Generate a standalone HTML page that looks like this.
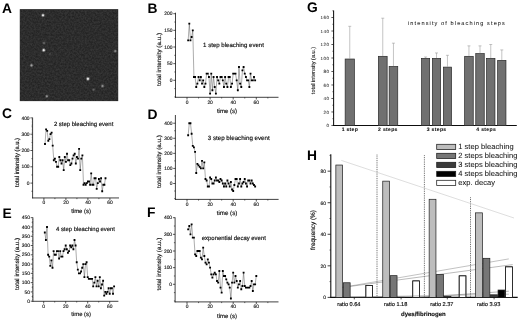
<!DOCTYPE html>
<html><head><meta charset="utf-8"><title>Figure</title>
<style>html,body{margin:0;padding:0;background:#fff;}body{width:520px;height:321px;overflow:hidden;font-family:"Liberation Sans",sans-serif;}svg{display:block;}</style>
</head><body>
<svg width="520" height="321" viewBox="0 0 520 321" font-family="'Liberation Sans', sans-serif" text-rendering="geometricPrecision"><defs><filter id="soft" x="0" y="0" width="100%" height="100%" filterUnits="userSpaceOnUse"><feGaussianBlur stdDeviation="0.28"/></filter></defs><g filter="url(#soft)"><rect x="0" y="0" width="520" height="321" fill="#fff"/>
<text transform="translate(2.00,12.60)" font-size="13.8" text-anchor="start" font-weight="bold" fill="#000">A</text>
<defs><filter id="nz" x="0" y="0" width="100%" height="100%" color-interpolation-filters="sRGB"><feTurbulence type="fractalNoise" baseFrequency="0.55" numOctaves="2" seed="7" result="t"/><feColorMatrix in="t" type="matrix" values="0.13 0 0 0 0.11  0.13 0 0 0 0.11  0.13 0 0 0 0.11  0 0 0 0 1"/></filter><radialGradient id="sp"><stop offset="0" stop-color="#fff" stop-opacity="1"/><stop offset="0.3" stop-color="#fff" stop-opacity="0.85"/><stop offset="0.6" stop-color="#fff" stop-opacity="0.3"/><stop offset="1" stop-color="#fff" stop-opacity="0"/></radialGradient></defs>
<rect x="19.8" y="9.2" width="98.4" height="91.9" fill="#161616"/>
<rect x="20.9" y="10.2" width="96.9" height="90.5" fill="#2c2c2c" filter="url(#nz)"/>
<circle cx="43" cy="15.3" r="2.3" fill="url(#sp)" opacity="0.95"/>
<circle cx="44" cy="43" r="2.2" fill="url(#sp)" opacity="0.28"/>
<circle cx="43.7" cy="50.2" r="2.4" fill="url(#sp)" opacity="0.95"/>
<circle cx="50.2" cy="54.2" r="2.0" fill="url(#sp)" opacity="0.12"/>
<circle cx="31.5" cy="65.4" r="2.4" fill="url(#sp)" opacity="0.55"/>
<circle cx="115.3" cy="51.1" r="2.2" fill="url(#sp)" opacity="0.45"/>
<circle cx="87.9" cy="78.8" r="2.5" fill="url(#sp)" opacity="0.95"/>
<circle cx="102.5" cy="86" r="2.3" fill="url(#sp)" opacity="0.5"/>
<circle cx="93.5" cy="89.7" r="2.1" fill="url(#sp)" opacity="0.28"/>
<circle cx="46.8" cy="96.3" r="2.2" fill="url(#sp)" opacity="0.5"/>
<text transform="translate(147.40,12.60)" font-size="13.8" text-anchor="start" font-weight="bold" fill="#000">B</text>
<line x1="175.50" y1="12.70" x2="175.50" y2="97.70" stroke="#111" stroke-width="0.8" />
<line x1="175.10" y1="97.30" x2="278.50" y2="97.30" stroke="#111" stroke-width="0.8" />
<line x1="173.30" y1="80.30" x2="175.50" y2="80.30" stroke="#111" stroke-width="0.7" />
<text transform="translate(172.50,81.95)" font-size="4.9" text-anchor="end" font-weight="normal" fill="#111" stroke="#111" stroke-width="0.12">0</text>
<line x1="173.30" y1="63.65" x2="175.50" y2="63.65" stroke="#111" stroke-width="0.7" />
<text transform="translate(172.50,65.30)" font-size="4.9" text-anchor="end" font-weight="normal" fill="#111" stroke="#111" stroke-width="0.12">50</text>
<line x1="173.30" y1="47.00" x2="175.50" y2="47.00" stroke="#111" stroke-width="0.7" />
<text transform="translate(172.50,48.65)" font-size="4.9" text-anchor="end" font-weight="normal" fill="#111" stroke="#111" stroke-width="0.12">100</text>
<line x1="173.30" y1="30.35" x2="175.50" y2="30.35" stroke="#111" stroke-width="0.7" />
<text transform="translate(172.50,32.00)" font-size="4.9" text-anchor="end" font-weight="normal" fill="#111" stroke="#111" stroke-width="0.12">150</text>
<line x1="173.30" y1="13.70" x2="175.50" y2="13.70" stroke="#111" stroke-width="0.7" />
<text transform="translate(172.50,15.35)" font-size="4.9" text-anchor="end" font-weight="normal" fill="#111" stroke="#111" stroke-width="0.12">200</text>
<line x1="174.30" y1="96.95" x2="175.50" y2="96.95" stroke="#111" stroke-width="0.6" />
<line x1="174.30" y1="88.62" x2="175.50" y2="88.62" stroke="#111" stroke-width="0.6" />
<line x1="174.30" y1="71.97" x2="175.50" y2="71.97" stroke="#111" stroke-width="0.6" />
<line x1="174.30" y1="55.32" x2="175.50" y2="55.32" stroke="#111" stroke-width="0.6" />
<line x1="174.30" y1="38.67" x2="175.50" y2="38.67" stroke="#111" stroke-width="0.6" />
<line x1="174.30" y1="22.02" x2="175.50" y2="22.02" stroke="#111" stroke-width="0.6" />
<line x1="187.00" y1="97.30" x2="187.00" y2="99.50" stroke="#111" stroke-width="0.7" />
<text transform="translate(187.00,103.60)" font-size="4.9" text-anchor="middle" font-weight="normal" fill="#111" stroke="#111" stroke-width="0.12">0</text>
<line x1="210.10" y1="97.30" x2="210.10" y2="99.50" stroke="#111" stroke-width="0.7" />
<text transform="translate(210.10,103.60)" font-size="4.9" text-anchor="middle" font-weight="normal" fill="#111" stroke="#111" stroke-width="0.12">20</text>
<line x1="233.20" y1="97.30" x2="233.20" y2="99.50" stroke="#111" stroke-width="0.7" />
<text transform="translate(233.20,103.60)" font-size="4.9" text-anchor="middle" font-weight="normal" fill="#111" stroke="#111" stroke-width="0.12">40</text>
<line x1="256.30" y1="97.30" x2="256.30" y2="99.50" stroke="#111" stroke-width="0.7" />
<text transform="translate(256.30,103.60)" font-size="4.9" text-anchor="middle" font-weight="normal" fill="#111" stroke="#111" stroke-width="0.12">60</text>
<line x1="198.55" y1="97.30" x2="198.55" y2="98.50" stroke="#111" stroke-width="0.6" />
<line x1="221.65" y1="97.30" x2="221.65" y2="98.50" stroke="#111" stroke-width="0.6" />
<line x1="244.75" y1="97.30" x2="244.75" y2="98.50" stroke="#111" stroke-width="0.6" />
<line x1="267.85" y1="97.30" x2="267.85" y2="98.50" stroke="#111" stroke-width="0.6" />
<text transform="translate(227.00,112.80)" font-size="6.08" text-anchor="middle" font-weight="normal" fill="#111" stroke="#111" stroke-width="0.16">time (s)</text>
<text transform="translate(161.40,59.55) rotate(-90) scale(1.048,1.0)" font-size="6.0" text-anchor="middle" font-weight="normal" fill="#111" stroke="#111" stroke-width="0.16">total intensity (a.u.)</text>
<text transform="translate(203.10,47.40)" font-size="6.08" text-anchor="start" font-weight="normal" fill="#111" stroke="#111" stroke-width="0.16">1 step bleaching event</text>
<path d="M188.16,40.34 L189.31,23.69 L190.47,40.34 L191.62,37.01 L192.78,30.35 L193.93,76.97 L195.09,76.97 L196.24,86.96 L197.40,83.63 L198.55,76.97 L199.71,80.30 L200.86,76.97 L202.01,83.63 L203.17,80.30 L204.32,86.96 L205.48,83.63 L206.63,73.64 L207.79,73.64 L208.94,76.97 L210.10,93.62 L211.25,73.64 L212.41,90.29 L213.56,76.97 L214.72,86.96 L215.88,93.62 L217.03,76.97 L218.19,80.30 L219.34,83.63 L220.50,76.97 L221.65,76.97 L222.81,80.30 L223.96,86.96 L225.12,76.97 L226.27,83.63 L227.43,86.96 L228.58,76.97 L229.74,76.97 L230.89,86.96 L232.05,83.63 L233.20,73.64 L234.36,73.64 L235.51,73.64 L236.66,80.30 L237.82,90.29 L238.97,66.98 L240.13,83.63 L241.28,86.96 L242.44,70.31 L243.59,66.98 L244.75,73.64 L245.91,76.97 L247.06,80.30 L248.22,80.30 L249.37,86.96 L250.53,73.64 L251.68,80.30 L252.84,80.30 L253.99,76.97 L255.14,80.30" fill="none" stroke="#3a3a3a" stroke-width="0.42" stroke-linejoin="round"/>
<path d="M187.23,39.41h1.85v1.85h-1.85zM188.38,22.76h1.85v1.85h-1.85zM189.54,39.41h1.85v1.85h-1.85zM190.69,36.09h1.85v1.85h-1.85zM191.85,29.42h1.85v1.85h-1.85zM193.00,76.05h1.85v1.85h-1.85zM194.16,76.05h1.85v1.85h-1.85zM195.31,86.03h1.85v1.85h-1.85zM196.47,82.70h1.85v1.85h-1.85zM197.62,76.05h1.85v1.85h-1.85zM198.78,79.38h1.85v1.85h-1.85zM199.94,76.05h1.85v1.85h-1.85zM201.09,82.70h1.85v1.85h-1.85zM202.25,79.38h1.85v1.85h-1.85zM203.40,86.03h1.85v1.85h-1.85zM204.55,82.70h1.85v1.85h-1.85zM205.71,72.72h1.85v1.85h-1.85zM206.86,72.72h1.85v1.85h-1.85zM208.02,76.05h1.85v1.85h-1.85zM209.17,92.70h1.85v1.85h-1.85zM210.33,72.72h1.85v1.85h-1.85zM211.48,89.36h1.85v1.85h-1.85zM212.64,76.05h1.85v1.85h-1.85zM213.79,86.03h1.85v1.85h-1.85zM214.95,92.70h1.85v1.85h-1.85zM216.10,76.05h1.85v1.85h-1.85zM217.26,79.38h1.85v1.85h-1.85zM218.41,82.70h1.85v1.85h-1.85zM219.57,76.05h1.85v1.85h-1.85zM220.72,76.05h1.85v1.85h-1.85zM221.88,79.38h1.85v1.85h-1.85zM223.03,86.03h1.85v1.85h-1.85zM224.19,76.05h1.85v1.85h-1.85zM225.34,82.70h1.85v1.85h-1.85zM226.50,86.03h1.85v1.85h-1.85zM227.65,76.05h1.85v1.85h-1.85zM228.81,76.05h1.85v1.85h-1.85zM229.96,86.03h1.85v1.85h-1.85zM231.12,82.70h1.85v1.85h-1.85zM232.27,72.72h1.85v1.85h-1.85zM233.43,72.72h1.85v1.85h-1.85zM234.58,72.72h1.85v1.85h-1.85zM235.74,79.38h1.85v1.85h-1.85zM236.89,89.36h1.85v1.85h-1.85zM238.05,66.05h1.85v1.85h-1.85zM239.20,82.70h1.85v1.85h-1.85zM240.36,86.03h1.85v1.85h-1.85zM241.51,69.39h1.85v1.85h-1.85zM242.67,66.05h1.85v1.85h-1.85zM243.82,72.72h1.85v1.85h-1.85zM244.98,76.05h1.85v1.85h-1.85zM246.13,79.38h1.85v1.85h-1.85zM247.29,79.38h1.85v1.85h-1.85zM248.44,86.03h1.85v1.85h-1.85zM249.60,72.72h1.85v1.85h-1.85zM250.75,79.38h1.85v1.85h-1.85zM251.91,79.38h1.85v1.85h-1.85zM253.06,76.05h1.85v1.85h-1.85zM254.22,79.38h1.85v1.85h-1.85z" fill="#000"/>
<text transform="translate(2.00,118.10)" font-size="13.8" text-anchor="start" font-weight="bold" fill="#000">C</text>
<line x1="32.60" y1="117.60" x2="32.60" y2="198.35" stroke="#111" stroke-width="0.8" />
<line x1="32.20" y1="197.95" x2="119.00" y2="197.95" stroke="#111" stroke-width="0.8" />
<line x1="30.40" y1="183.10" x2="32.60" y2="183.10" stroke="#111" stroke-width="0.7" />
<text transform="translate(29.60,184.75)" font-size="4.9" text-anchor="end" font-weight="normal" fill="#111" stroke="#111" stroke-width="0.12">0</text>
<line x1="30.40" y1="166.80" x2="32.60" y2="166.80" stroke="#111" stroke-width="0.7" />
<text transform="translate(29.60,168.45)" font-size="4.9" text-anchor="end" font-weight="normal" fill="#111" stroke="#111" stroke-width="0.12">100</text>
<line x1="30.40" y1="150.50" x2="32.60" y2="150.50" stroke="#111" stroke-width="0.7" />
<text transform="translate(29.60,152.15)" font-size="4.9" text-anchor="end" font-weight="normal" fill="#111" stroke="#111" stroke-width="0.12">200</text>
<line x1="30.40" y1="134.20" x2="32.60" y2="134.20" stroke="#111" stroke-width="0.7" />
<text transform="translate(29.60,135.85)" font-size="4.9" text-anchor="end" font-weight="normal" fill="#111" stroke="#111" stroke-width="0.12">300</text>
<line x1="30.40" y1="117.90" x2="32.60" y2="117.90" stroke="#111" stroke-width="0.7" />
<text transform="translate(29.60,119.55)" font-size="4.9" text-anchor="end" font-weight="normal" fill="#111" stroke="#111" stroke-width="0.12">400</text>
<line x1="31.40" y1="191.25" x2="32.60" y2="191.25" stroke="#111" stroke-width="0.6" />
<line x1="31.40" y1="174.95" x2="32.60" y2="174.95" stroke="#111" stroke-width="0.6" />
<line x1="31.40" y1="158.65" x2="32.60" y2="158.65" stroke="#111" stroke-width="0.6" />
<line x1="31.40" y1="142.35" x2="32.60" y2="142.35" stroke="#111" stroke-width="0.6" />
<line x1="31.40" y1="126.05" x2="32.60" y2="126.05" stroke="#111" stroke-width="0.6" />
<line x1="31.70" y1="148.87" x2="32.90" y2="148.87" stroke="#333" stroke-width="0.45" />
<line x1="31.70" y1="147.24" x2="32.90" y2="147.24" stroke="#333" stroke-width="0.45" />
<line x1="31.70" y1="145.61" x2="32.90" y2="145.61" stroke="#333" stroke-width="0.45" />
<line x1="31.70" y1="143.98" x2="32.90" y2="143.98" stroke="#333" stroke-width="0.45" />
<line x1="31.70" y1="140.72" x2="32.90" y2="140.72" stroke="#333" stroke-width="0.45" />
<line x1="31.70" y1="139.09" x2="32.90" y2="139.09" stroke="#333" stroke-width="0.45" />
<line x1="31.70" y1="137.46" x2="32.90" y2="137.46" stroke="#333" stroke-width="0.45" />
<line x1="31.70" y1="135.83" x2="32.90" y2="135.83" stroke="#333" stroke-width="0.45" />
<line x1="31.70" y1="132.57" x2="32.90" y2="132.57" stroke="#333" stroke-width="0.45" />
<line x1="31.70" y1="130.94" x2="32.90" y2="130.94" stroke="#333" stroke-width="0.45" />
<line x1="31.70" y1="129.31" x2="32.90" y2="129.31" stroke="#333" stroke-width="0.45" />
<line x1="31.70" y1="127.68" x2="32.90" y2="127.68" stroke="#333" stroke-width="0.45" />
<line x1="31.70" y1="124.42" x2="32.90" y2="124.42" stroke="#333" stroke-width="0.45" />
<line x1="31.70" y1="122.79" x2="32.90" y2="122.79" stroke="#333" stroke-width="0.45" />
<line x1="31.70" y1="121.16" x2="32.90" y2="121.16" stroke="#333" stroke-width="0.45" />
<line x1="31.70" y1="119.53" x2="32.90" y2="119.53" stroke="#333" stroke-width="0.45" />
<line x1="43.90" y1="197.95" x2="43.90" y2="200.15" stroke="#111" stroke-width="0.7" />
<text transform="translate(43.90,204.20)" font-size="4.9" text-anchor="middle" font-weight="normal" fill="#111" stroke="#111" stroke-width="0.12">0</text>
<line x1="65.90" y1="197.95" x2="65.90" y2="200.15" stroke="#111" stroke-width="0.7" />
<text transform="translate(65.90,204.20)" font-size="4.9" text-anchor="middle" font-weight="normal" fill="#111" stroke="#111" stroke-width="0.12">20</text>
<line x1="87.90" y1="197.95" x2="87.90" y2="200.15" stroke="#111" stroke-width="0.7" />
<text transform="translate(87.90,204.20)" font-size="4.9" text-anchor="middle" font-weight="normal" fill="#111" stroke="#111" stroke-width="0.12">40</text>
<line x1="109.90" y1="197.95" x2="109.90" y2="200.15" stroke="#111" stroke-width="0.7" />
<text transform="translate(109.90,204.20)" font-size="4.9" text-anchor="middle" font-weight="normal" fill="#111" stroke="#111" stroke-width="0.12">60</text>
<line x1="54.90" y1="197.95" x2="54.90" y2="199.15" stroke="#111" stroke-width="0.6" />
<line x1="76.90" y1="197.95" x2="76.90" y2="199.15" stroke="#111" stroke-width="0.6" />
<line x1="98.90" y1="197.95" x2="98.90" y2="199.15" stroke="#111" stroke-width="0.6" />
<text transform="translate(81.10,213.30)" font-size="5.95" text-anchor="middle" font-weight="normal" fill="#111" stroke="#111" stroke-width="0.16">time (s)</text>
<text transform="translate(18.80,162.45) rotate(-90) scale(0.965,1.0)" font-size="6.0" text-anchor="middle" font-weight="normal" fill="#111" stroke="#111" stroke-width="0.16">total intensity (a.u.)</text>
<text transform="translate(53.90,125.60)" font-size="5.95" text-anchor="start" font-weight="normal" fill="#111" stroke="#111" stroke-width="0.16">2 step bleaching event</text>
<path d="M45.00,143.98 L46.10,129.31 L47.20,130.94 L48.30,140.72 L49.40,139.09 L50.50,134.20 L51.60,132.57 L52.70,145.61 L53.80,160.28 L54.90,158.65 L56.00,161.91 L57.10,166.80 L58.20,166.80 L59.30,157.02 L60.40,160.28 L61.50,163.54 L62.60,160.28 L63.70,170.06 L64.80,157.02 L65.90,161.91 L67.00,153.76 L68.10,160.28 L69.20,160.28 L70.30,165.17 L71.40,163.54 L72.50,158.65 L73.60,155.39 L74.70,153.76 L75.80,163.54 L76.90,157.02 L78.00,158.65 L79.10,148.87 L80.20,170.06 L81.30,158.65 L82.40,155.39 L83.50,184.73 L84.60,183.10 L85.70,184.73 L86.80,183.10 L87.90,181.47 L89.00,181.47 L90.10,184.73 L91.20,173.32 L92.30,184.73 L93.40,184.73 L94.50,178.21 L95.60,178.21 L96.70,188.81 L97.80,183.10 L98.90,179.03 L100.00,181.47 L101.10,178.21 L102.20,191.25 L103.30,184.73 L104.40,184.73 L105.50,178.21" fill="none" stroke="#3a3a3a" stroke-width="0.42" stroke-linejoin="round"/>
<path d="M44.08,143.05h1.85v1.85h-1.85zM45.18,128.38h1.85v1.85h-1.85zM46.27,130.01h1.85v1.85h-1.85zM47.38,139.79h1.85v1.85h-1.85zM48.48,138.16h1.85v1.85h-1.85zM49.58,133.27h1.85v1.85h-1.85zM50.68,131.64h1.85v1.85h-1.85zM51.78,144.68h1.85v1.85h-1.85zM52.88,159.35h1.85v1.85h-1.85zM53.98,157.72h1.85v1.85h-1.85zM55.08,160.98h1.85v1.85h-1.85zM56.18,165.87h1.85v1.85h-1.85zM57.28,165.87h1.85v1.85h-1.85zM58.38,156.09h1.85v1.85h-1.85zM59.48,159.35h1.85v1.85h-1.85zM60.58,162.61h1.85v1.85h-1.85zM61.68,159.35h1.85v1.85h-1.85zM62.78,169.13h1.85v1.85h-1.85zM63.88,156.09h1.85v1.85h-1.85zM64.98,160.98h1.85v1.85h-1.85zM66.08,152.83h1.85v1.85h-1.85zM67.17,159.35h1.85v1.85h-1.85zM68.28,159.35h1.85v1.85h-1.85zM69.38,164.24h1.85v1.85h-1.85zM70.48,162.61h1.85v1.85h-1.85zM71.58,157.72h1.85v1.85h-1.85zM72.67,154.46h1.85v1.85h-1.85zM73.78,152.83h1.85v1.85h-1.85zM74.88,162.61h1.85v1.85h-1.85zM75.98,156.09h1.85v1.85h-1.85zM77.08,157.72h1.85v1.85h-1.85zM78.17,147.94h1.85v1.85h-1.85zM79.28,169.13h1.85v1.85h-1.85zM80.38,157.72h1.85v1.85h-1.85zM81.48,154.46h1.85v1.85h-1.85zM82.58,183.80h1.85v1.85h-1.85zM83.67,182.17h1.85v1.85h-1.85zM84.78,183.80h1.85v1.85h-1.85zM85.88,182.17h1.85v1.85h-1.85zM86.98,180.54h1.85v1.85h-1.85zM88.08,180.54h1.85v1.85h-1.85zM89.17,183.80h1.85v1.85h-1.85zM90.28,172.39h1.85v1.85h-1.85zM91.38,183.80h1.85v1.85h-1.85zM92.48,183.80h1.85v1.85h-1.85zM93.58,177.28h1.85v1.85h-1.85zM94.67,177.28h1.85v1.85h-1.85zM95.78,187.88h1.85v1.85h-1.85zM96.88,182.17h1.85v1.85h-1.85zM97.98,178.10h1.85v1.85h-1.85zM99.08,180.54h1.85v1.85h-1.85zM100.17,177.28h1.85v1.85h-1.85zM101.28,190.32h1.85v1.85h-1.85zM102.38,183.80h1.85v1.85h-1.85zM103.48,183.80h1.85v1.85h-1.85zM104.58,177.28h1.85v1.85h-1.85z" fill="#000"/>
<text transform="translate(147.40,118.70)" font-size="13.8" text-anchor="start" font-weight="bold" fill="#000">D</text>
<line x1="175.40" y1="115.00" x2="175.40" y2="199.80" stroke="#111" stroke-width="0.8" />
<line x1="175.00" y1="199.40" x2="278.60" y2="199.40" stroke="#111" stroke-width="0.8" />
<line x1="173.20" y1="183.50" x2="175.40" y2="183.50" stroke="#111" stroke-width="0.7" />
<text transform="translate(172.40,185.15)" font-size="4.9" text-anchor="end" font-weight="normal" fill="#111" stroke="#111" stroke-width="0.12">0</text>
<line x1="173.20" y1="168.43" x2="175.40" y2="168.43" stroke="#111" stroke-width="0.7" />
<text transform="translate(172.40,170.08)" font-size="4.9" text-anchor="end" font-weight="normal" fill="#111" stroke="#111" stroke-width="0.12">100</text>
<line x1="173.20" y1="153.36" x2="175.40" y2="153.36" stroke="#111" stroke-width="0.7" />
<text transform="translate(172.40,155.01)" font-size="4.9" text-anchor="end" font-weight="normal" fill="#111" stroke="#111" stroke-width="0.12">200</text>
<line x1="173.20" y1="138.29" x2="175.40" y2="138.29" stroke="#111" stroke-width="0.7" />
<text transform="translate(172.40,139.94)" font-size="4.9" text-anchor="end" font-weight="normal" fill="#111" stroke="#111" stroke-width="0.12">300</text>
<line x1="173.20" y1="123.22" x2="175.40" y2="123.22" stroke="#111" stroke-width="0.7" />
<text transform="translate(172.40,124.87)" font-size="4.9" text-anchor="end" font-weight="normal" fill="#111" stroke="#111" stroke-width="0.12">400</text>
<line x1="174.20" y1="198.57" x2="175.40" y2="198.57" stroke="#111" stroke-width="0.6" />
<line x1="174.20" y1="191.03" x2="175.40" y2="191.03" stroke="#111" stroke-width="0.6" />
<line x1="174.20" y1="175.97" x2="175.40" y2="175.97" stroke="#111" stroke-width="0.6" />
<line x1="174.20" y1="160.90" x2="175.40" y2="160.90" stroke="#111" stroke-width="0.6" />
<line x1="174.20" y1="145.82" x2="175.40" y2="145.82" stroke="#111" stroke-width="0.6" />
<line x1="174.20" y1="130.75" x2="175.40" y2="130.75" stroke="#111" stroke-width="0.6" />
<line x1="187.00" y1="199.40" x2="187.00" y2="201.60" stroke="#111" stroke-width="0.7" />
<text transform="translate(187.00,205.80)" font-size="4.9" text-anchor="middle" font-weight="normal" fill="#111" stroke="#111" stroke-width="0.12">0</text>
<line x1="210.10" y1="199.40" x2="210.10" y2="201.60" stroke="#111" stroke-width="0.7" />
<text transform="translate(210.10,205.80)" font-size="4.9" text-anchor="middle" font-weight="normal" fill="#111" stroke="#111" stroke-width="0.12">20</text>
<line x1="233.20" y1="199.40" x2="233.20" y2="201.60" stroke="#111" stroke-width="0.7" />
<text transform="translate(233.20,205.80)" font-size="4.9" text-anchor="middle" font-weight="normal" fill="#111" stroke="#111" stroke-width="0.12">40</text>
<line x1="256.30" y1="199.40" x2="256.30" y2="201.60" stroke="#111" stroke-width="0.7" />
<text transform="translate(256.30,205.80)" font-size="4.9" text-anchor="middle" font-weight="normal" fill="#111" stroke="#111" stroke-width="0.12">60</text>
<line x1="198.55" y1="199.40" x2="198.55" y2="200.60" stroke="#111" stroke-width="0.6" />
<line x1="221.65" y1="199.40" x2="221.65" y2="200.60" stroke="#111" stroke-width="0.6" />
<line x1="244.75" y1="199.40" x2="244.75" y2="200.60" stroke="#111" stroke-width="0.6" />
<line x1="267.85" y1="199.40" x2="267.85" y2="200.60" stroke="#111" stroke-width="0.6" />
<text transform="translate(227.00,214.80)" font-size="6.2" text-anchor="middle" font-weight="normal" fill="#111" stroke="#111" stroke-width="0.16">time (s)</text>
<text transform="translate(161.10,161.60) rotate(-90) scale(1.042,1.0)" font-size="6.0" text-anchor="middle" font-weight="normal" fill="#111" stroke="#111" stroke-width="0.16">total intensity (a.u.)</text>
<text transform="translate(207.80,140.20)" font-size="6.2" text-anchor="start" font-weight="normal" fill="#111" stroke="#111" stroke-width="0.16">3 step bleaching event</text>
<path d="M188.16,135.28 L189.31,123.22 L190.47,123.22 L191.62,133.77 L192.78,145.82 L193.93,147.33 L195.09,151.85 L196.24,172.95 L197.40,163.91 L198.55,165.42 L199.71,166.92 L200.86,168.43 L202.01,160.90 L203.17,168.43 L204.32,162.40 L205.48,178.98 L206.63,180.49 L207.79,186.51 L208.94,186.51 L210.10,177.47 L211.25,178.98 L212.41,183.50 L213.56,183.50 L214.72,180.49 L215.88,177.47 L217.03,180.49 L218.19,180.49 L219.34,181.99 L220.50,178.98 L221.65,180.49 L222.81,183.50 L223.96,186.51 L225.12,183.50 L226.27,186.51 L227.43,180.49 L228.58,183.50 L229.74,186.51 L230.89,181.99 L232.05,189.53 L233.20,191.03 L234.36,185.01 L235.51,178.98 L236.66,178.98 L237.82,186.51 L238.97,183.50 L240.13,178.98 L241.28,186.51 L242.44,183.50 L243.59,181.99 L244.75,178.98 L245.91,183.50 L247.06,186.51 L248.22,180.49 L249.37,180.49 L250.53,183.50 L251.68,180.49 L252.84,183.50 L253.99,185.01 L255.14,186.51" fill="none" stroke="#3a3a3a" stroke-width="0.42" stroke-linejoin="round"/>
<path d="M187.23,134.35h1.85v1.85h-1.85zM188.38,122.30h1.85v1.85h-1.85zM189.54,122.30h1.85v1.85h-1.85zM190.69,132.84h1.85v1.85h-1.85zM191.85,144.90h1.85v1.85h-1.85zM193.00,146.41h1.85v1.85h-1.85zM194.16,150.93h1.85v1.85h-1.85zM195.31,172.03h1.85v1.85h-1.85zM196.47,162.98h1.85v1.85h-1.85zM197.62,164.49h1.85v1.85h-1.85zM198.78,166.00h1.85v1.85h-1.85zM199.94,167.50h1.85v1.85h-1.85zM201.09,159.97h1.85v1.85h-1.85zM202.25,167.50h1.85v1.85h-1.85zM203.40,161.48h1.85v1.85h-1.85zM204.55,178.05h1.85v1.85h-1.85zM205.71,179.56h1.85v1.85h-1.85zM206.86,185.59h1.85v1.85h-1.85zM208.02,185.59h1.85v1.85h-1.85zM209.17,176.55h1.85v1.85h-1.85zM210.33,178.05h1.85v1.85h-1.85zM211.48,182.57h1.85v1.85h-1.85zM212.64,182.57h1.85v1.85h-1.85zM213.79,179.56h1.85v1.85h-1.85zM214.95,176.55h1.85v1.85h-1.85zM216.10,179.56h1.85v1.85h-1.85zM217.26,179.56h1.85v1.85h-1.85zM218.41,181.07h1.85v1.85h-1.85zM219.57,178.05h1.85v1.85h-1.85zM220.72,179.56h1.85v1.85h-1.85zM221.88,182.57h1.85v1.85h-1.85zM223.03,185.59h1.85v1.85h-1.85zM224.19,182.57h1.85v1.85h-1.85zM225.34,185.59h1.85v1.85h-1.85zM226.50,179.56h1.85v1.85h-1.85zM227.65,182.57h1.85v1.85h-1.85zM228.81,185.59h1.85v1.85h-1.85zM229.96,181.07h1.85v1.85h-1.85zM231.12,188.60h1.85v1.85h-1.85zM232.27,190.11h1.85v1.85h-1.85zM233.43,184.08h1.85v1.85h-1.85zM234.58,178.05h1.85v1.85h-1.85zM235.74,178.05h1.85v1.85h-1.85zM236.89,185.59h1.85v1.85h-1.85zM238.05,182.57h1.85v1.85h-1.85zM239.20,178.05h1.85v1.85h-1.85zM240.36,185.59h1.85v1.85h-1.85zM241.51,182.57h1.85v1.85h-1.85zM242.67,181.07h1.85v1.85h-1.85zM243.82,178.05h1.85v1.85h-1.85zM244.98,182.57h1.85v1.85h-1.85zM246.13,185.59h1.85v1.85h-1.85zM247.29,179.56h1.85v1.85h-1.85zM248.44,179.56h1.85v1.85h-1.85zM249.60,182.57h1.85v1.85h-1.85zM250.75,179.56h1.85v1.85h-1.85zM251.91,182.57h1.85v1.85h-1.85zM253.06,184.08h1.85v1.85h-1.85zM254.22,185.59h1.85v1.85h-1.85z" fill="#000"/>
<text transform="translate(2.50,218.20)" font-size="13.8" text-anchor="start" font-weight="bold" fill="#000">E</text>
<line x1="32.90" y1="217.38" x2="32.90" y2="301.70" stroke="#111" stroke-width="0.8" />
<line x1="32.50" y1="301.30" x2="118.40" y2="301.30" stroke="#111" stroke-width="0.8" />
<line x1="30.70" y1="301.20" x2="32.90" y2="301.20" stroke="#111" stroke-width="0.7" />
<text transform="translate(29.90,302.85)" font-size="4.9" text-anchor="end" font-weight="normal" fill="#111" stroke="#111" stroke-width="0.12">0</text>
<line x1="30.70" y1="291.92" x2="32.90" y2="291.92" stroke="#111" stroke-width="0.7" />
<text transform="translate(29.90,293.57)" font-size="4.9" text-anchor="end" font-weight="normal" fill="#111" stroke="#111" stroke-width="0.12">50</text>
<line x1="30.70" y1="282.64" x2="32.90" y2="282.64" stroke="#111" stroke-width="0.7" />
<text transform="translate(29.90,284.29)" font-size="4.9" text-anchor="end" font-weight="normal" fill="#111" stroke="#111" stroke-width="0.12">100</text>
<line x1="30.70" y1="273.36" x2="32.90" y2="273.36" stroke="#111" stroke-width="0.7" />
<text transform="translate(29.90,275.01)" font-size="4.9" text-anchor="end" font-weight="normal" fill="#111" stroke="#111" stroke-width="0.12">150</text>
<line x1="30.70" y1="264.08" x2="32.90" y2="264.08" stroke="#111" stroke-width="0.7" />
<text transform="translate(29.90,265.73)" font-size="4.9" text-anchor="end" font-weight="normal" fill="#111" stroke="#111" stroke-width="0.12">200</text>
<line x1="30.70" y1="254.80" x2="32.90" y2="254.80" stroke="#111" stroke-width="0.7" />
<text transform="translate(29.90,256.45)" font-size="4.9" text-anchor="end" font-weight="normal" fill="#111" stroke="#111" stroke-width="0.12">250</text>
<line x1="30.70" y1="245.52" x2="32.90" y2="245.52" stroke="#111" stroke-width="0.7" />
<text transform="translate(29.90,247.17)" font-size="4.9" text-anchor="end" font-weight="normal" fill="#111" stroke="#111" stroke-width="0.12">300</text>
<line x1="30.70" y1="236.24" x2="32.90" y2="236.24" stroke="#111" stroke-width="0.7" />
<text transform="translate(29.90,237.89)" font-size="4.9" text-anchor="end" font-weight="normal" fill="#111" stroke="#111" stroke-width="0.12">350</text>
<line x1="30.70" y1="226.96" x2="32.90" y2="226.96" stroke="#111" stroke-width="0.7" />
<text transform="translate(29.90,228.61)" font-size="4.9" text-anchor="end" font-weight="normal" fill="#111" stroke="#111" stroke-width="0.12">400</text>
<line x1="30.70" y1="217.68" x2="32.90" y2="217.68" stroke="#111" stroke-width="0.7" />
<text transform="translate(29.90,219.33)" font-size="4.9" text-anchor="end" font-weight="normal" fill="#111" stroke="#111" stroke-width="0.12">450</text>
<line x1="31.70" y1="296.56" x2="32.90" y2="296.56" stroke="#111" stroke-width="0.6" />
<line x1="31.70" y1="287.28" x2="32.90" y2="287.28" stroke="#111" stroke-width="0.6" />
<line x1="31.70" y1="278.00" x2="32.90" y2="278.00" stroke="#111" stroke-width="0.6" />
<line x1="31.70" y1="268.72" x2="32.90" y2="268.72" stroke="#111" stroke-width="0.6" />
<line x1="31.70" y1="259.44" x2="32.90" y2="259.44" stroke="#111" stroke-width="0.6" />
<line x1="31.70" y1="250.16" x2="32.90" y2="250.16" stroke="#111" stroke-width="0.6" />
<line x1="31.70" y1="240.88" x2="32.90" y2="240.88" stroke="#111" stroke-width="0.6" />
<line x1="31.70" y1="231.60" x2="32.90" y2="231.60" stroke="#111" stroke-width="0.6" />
<line x1="31.70" y1="222.32" x2="32.90" y2="222.32" stroke="#111" stroke-width="0.6" />
<line x1="32.00" y1="299.34" x2="33.20" y2="299.34" stroke="#333" stroke-width="0.45" />
<line x1="32.00" y1="297.49" x2="33.20" y2="297.49" stroke="#333" stroke-width="0.45" />
<line x1="32.00" y1="295.63" x2="33.20" y2="295.63" stroke="#333" stroke-width="0.45" />
<line x1="32.00" y1="293.78" x2="33.20" y2="293.78" stroke="#333" stroke-width="0.45" />
<line x1="32.00" y1="290.06" x2="33.20" y2="290.06" stroke="#333" stroke-width="0.45" />
<line x1="32.00" y1="288.21" x2="33.20" y2="288.21" stroke="#333" stroke-width="0.45" />
<line x1="32.00" y1="286.35" x2="33.20" y2="286.35" stroke="#333" stroke-width="0.45" />
<line x1="32.00" y1="284.50" x2="33.20" y2="284.50" stroke="#333" stroke-width="0.45" />
<line x1="32.00" y1="280.78" x2="33.20" y2="280.78" stroke="#333" stroke-width="0.45" />
<line x1="32.00" y1="278.93" x2="33.20" y2="278.93" stroke="#333" stroke-width="0.45" />
<line x1="32.00" y1="277.07" x2="33.20" y2="277.07" stroke="#333" stroke-width="0.45" />
<line x1="32.00" y1="275.22" x2="33.20" y2="275.22" stroke="#333" stroke-width="0.45" />
<line x1="32.00" y1="271.50" x2="33.20" y2="271.50" stroke="#333" stroke-width="0.45" />
<line x1="32.00" y1="269.65" x2="33.20" y2="269.65" stroke="#333" stroke-width="0.45" />
<line x1="32.00" y1="267.79" x2="33.20" y2="267.79" stroke="#333" stroke-width="0.45" />
<line x1="32.00" y1="265.94" x2="33.20" y2="265.94" stroke="#333" stroke-width="0.45" />
<line x1="32.00" y1="262.22" x2="33.20" y2="262.22" stroke="#333" stroke-width="0.45" />
<line x1="32.00" y1="260.37" x2="33.20" y2="260.37" stroke="#333" stroke-width="0.45" />
<line x1="32.00" y1="258.51" x2="33.20" y2="258.51" stroke="#333" stroke-width="0.45" />
<line x1="32.00" y1="256.66" x2="33.20" y2="256.66" stroke="#333" stroke-width="0.45" />
<line x1="32.00" y1="252.94" x2="33.20" y2="252.94" stroke="#333" stroke-width="0.45" />
<line x1="32.00" y1="251.09" x2="33.20" y2="251.09" stroke="#333" stroke-width="0.45" />
<line x1="32.00" y1="249.23" x2="33.20" y2="249.23" stroke="#333" stroke-width="0.45" />
<line x1="32.00" y1="247.38" x2="33.20" y2="247.38" stroke="#333" stroke-width="0.45" />
<line x1="32.00" y1="243.66" x2="33.20" y2="243.66" stroke="#333" stroke-width="0.45" />
<line x1="32.00" y1="241.81" x2="33.20" y2="241.81" stroke="#333" stroke-width="0.45" />
<line x1="32.00" y1="239.95" x2="33.20" y2="239.95" stroke="#333" stroke-width="0.45" />
<line x1="32.00" y1="238.10" x2="33.20" y2="238.10" stroke="#333" stroke-width="0.45" />
<line x1="32.00" y1="234.38" x2="33.20" y2="234.38" stroke="#333" stroke-width="0.45" />
<line x1="32.00" y1="232.53" x2="33.20" y2="232.53" stroke="#333" stroke-width="0.45" />
<line x1="32.00" y1="230.67" x2="33.20" y2="230.67" stroke="#333" stroke-width="0.45" />
<line x1="32.00" y1="228.82" x2="33.20" y2="228.82" stroke="#333" stroke-width="0.45" />
<line x1="32.00" y1="225.10" x2="33.20" y2="225.10" stroke="#333" stroke-width="0.45" />
<line x1="32.00" y1="223.25" x2="33.20" y2="223.25" stroke="#333" stroke-width="0.45" />
<line x1="32.00" y1="221.39" x2="33.20" y2="221.39" stroke="#333" stroke-width="0.45" />
<line x1="32.00" y1="219.54" x2="33.20" y2="219.54" stroke="#333" stroke-width="0.45" />
<line x1="43.70" y1="301.30" x2="43.70" y2="303.50" stroke="#111" stroke-width="0.7" />
<text transform="translate(43.70,307.70)" font-size="4.9" text-anchor="middle" font-weight="normal" fill="#111" stroke="#111" stroke-width="0.12">0</text>
<line x1="65.70" y1="301.30" x2="65.70" y2="303.50" stroke="#111" stroke-width="0.7" />
<text transform="translate(65.70,307.70)" font-size="4.9" text-anchor="middle" font-weight="normal" fill="#111" stroke="#111" stroke-width="0.12">20</text>
<line x1="87.70" y1="301.30" x2="87.70" y2="303.50" stroke="#111" stroke-width="0.7" />
<text transform="translate(87.70,307.70)" font-size="4.9" text-anchor="middle" font-weight="normal" fill="#111" stroke="#111" stroke-width="0.12">40</text>
<line x1="109.70" y1="301.30" x2="109.70" y2="303.50" stroke="#111" stroke-width="0.7" />
<text transform="translate(109.70,307.70)" font-size="4.9" text-anchor="middle" font-weight="normal" fill="#111" stroke="#111" stroke-width="0.12">60</text>
<line x1="54.70" y1="301.30" x2="54.70" y2="302.50" stroke="#111" stroke-width="0.6" />
<line x1="76.70" y1="301.30" x2="76.70" y2="302.50" stroke="#111" stroke-width="0.6" />
<line x1="98.70" y1="301.30" x2="98.70" y2="302.50" stroke="#111" stroke-width="0.6" />
<text transform="translate(81.10,316.30)" font-size="5.9" text-anchor="middle" font-weight="normal" fill="#111" stroke="#111" stroke-width="0.16">time (s)</text>
<text transform="translate(18.70,263.95) rotate(-90) scale(1.024,1.0)" font-size="6.0" text-anchor="middle" font-weight="normal" fill="#111" stroke="#111" stroke-width="0.16">total intensity (a.u.)</text>
<text transform="translate(56.00,230.60)" font-size="5.9" text-anchor="start" font-weight="normal" fill="#111" stroke="#111" stroke-width="0.16">4 step bleaching event</text>
<path d="M44.80,232.53 L45.90,239.95 L47.00,226.96 L48.10,254.80 L49.20,256.66 L50.30,265.94 L51.40,260.37 L52.50,267.79 L53.60,251.09 L54.70,254.80 L55.80,254.80 L56.90,251.09 L58.00,251.09 L59.10,258.51 L60.20,251.09 L61.30,256.66 L62.40,256.66 L63.50,251.09 L64.60,249.23 L65.70,245.52 L66.80,249.23 L67.90,252.94 L69.00,251.09 L70.10,245.52 L71.20,247.38 L72.30,245.52 L73.40,249.23 L74.50,239.95 L75.60,245.52 L76.70,262.22 L77.80,269.65 L78.90,273.36 L80.00,273.36 L81.10,271.50 L82.20,267.79 L83.30,264.08 L84.40,277.07 L85.50,264.08 L86.60,262.22 L87.70,277.07 L88.80,278.93 L89.90,278.93 L91.00,278.93 L92.10,278.93 L93.20,286.35 L94.30,282.64 L95.40,277.07 L96.50,286.35 L97.60,280.78 L98.70,286.35 L99.80,277.07 L100.90,288.21 L102.00,284.50 L103.10,280.78 L104.20,295.63 L105.30,291.92 L106.40,293.78 L107.50,291.92 L108.60,288.21 L109.70,293.78 L110.80,288.21 L111.90,288.21 L113.00,293.78 L114.10,286.35" fill="none" stroke="#3a3a3a" stroke-width="0.42" stroke-linejoin="round"/>
<path d="M43.88,231.60h1.85v1.85h-1.85zM44.98,239.03h1.85v1.85h-1.85zM46.08,226.03h1.85v1.85h-1.85zM47.18,253.87h1.85v1.85h-1.85zM48.28,255.73h1.85v1.85h-1.85zM49.38,265.01h1.85v1.85h-1.85zM50.48,259.44h1.85v1.85h-1.85zM51.58,266.87h1.85v1.85h-1.85zM52.68,250.16h1.85v1.85h-1.85zM53.78,253.87h1.85v1.85h-1.85zM54.88,253.87h1.85v1.85h-1.85zM55.98,250.16h1.85v1.85h-1.85zM57.08,250.16h1.85v1.85h-1.85zM58.18,257.59h1.85v1.85h-1.85zM59.28,250.16h1.85v1.85h-1.85zM60.38,255.73h1.85v1.85h-1.85zM61.48,255.73h1.85v1.85h-1.85zM62.58,250.16h1.85v1.85h-1.85zM63.68,248.31h1.85v1.85h-1.85zM64.78,244.59h1.85v1.85h-1.85zM65.88,248.31h1.85v1.85h-1.85zM66.98,252.02h1.85v1.85h-1.85zM68.08,250.16h1.85v1.85h-1.85zM69.18,244.59h1.85v1.85h-1.85zM70.28,246.45h1.85v1.85h-1.85zM71.38,244.59h1.85v1.85h-1.85zM72.48,248.31h1.85v1.85h-1.85zM73.58,239.03h1.85v1.85h-1.85zM74.68,244.59h1.85v1.85h-1.85zM75.78,261.30h1.85v1.85h-1.85zM76.88,268.72h1.85v1.85h-1.85zM77.98,272.44h1.85v1.85h-1.85zM79.08,272.44h1.85v1.85h-1.85zM80.18,270.58h1.85v1.85h-1.85zM81.28,266.87h1.85v1.85h-1.85zM82.38,263.15h1.85v1.85h-1.85zM83.48,276.15h1.85v1.85h-1.85zM84.58,263.15h1.85v1.85h-1.85zM85.68,261.30h1.85v1.85h-1.85zM86.78,276.15h1.85v1.85h-1.85zM87.88,278.00h1.85v1.85h-1.85zM88.98,278.00h1.85v1.85h-1.85zM90.08,278.00h1.85v1.85h-1.85zM91.18,278.00h1.85v1.85h-1.85zM92.28,285.43h1.85v1.85h-1.85zM93.38,281.71h1.85v1.85h-1.85zM94.48,276.15h1.85v1.85h-1.85zM95.58,285.43h1.85v1.85h-1.85zM96.68,279.86h1.85v1.85h-1.85zM97.78,285.43h1.85v1.85h-1.85zM98.88,276.15h1.85v1.85h-1.85zM99.98,287.28h1.85v1.85h-1.85zM101.08,283.57h1.85v1.85h-1.85zM102.18,279.86h1.85v1.85h-1.85zM103.28,294.71h1.85v1.85h-1.85zM104.38,291.00h1.85v1.85h-1.85zM105.48,292.85h1.85v1.85h-1.85zM106.58,291.00h1.85v1.85h-1.85zM107.68,287.28h1.85v1.85h-1.85zM108.78,292.85h1.85v1.85h-1.85zM109.88,287.28h1.85v1.85h-1.85zM110.98,287.28h1.85v1.85h-1.85zM112.08,292.85h1.85v1.85h-1.85zM113.18,285.43h1.85v1.85h-1.85z" fill="#000"/>
<text transform="translate(147.00,216.80)" font-size="13.8" text-anchor="start" font-weight="bold" fill="#000">F</text>
<line x1="175.10" y1="217.40" x2="175.10" y2="302.30" stroke="#111" stroke-width="0.8" />
<line x1="174.70" y1="301.90" x2="278.50" y2="301.90" stroke="#111" stroke-width="0.8" />
<line x1="172.90" y1="284.30" x2="175.10" y2="284.30" stroke="#111" stroke-width="0.7" />
<text transform="translate(172.10,285.95)" font-size="4.9" text-anchor="end" font-weight="normal" fill="#111" stroke="#111" stroke-width="0.12">0</text>
<line x1="172.90" y1="267.65" x2="175.10" y2="267.65" stroke="#111" stroke-width="0.7" />
<text transform="translate(172.10,269.30)" font-size="4.9" text-anchor="end" font-weight="normal" fill="#111" stroke="#111" stroke-width="0.12">100</text>
<line x1="172.90" y1="251.00" x2="175.10" y2="251.00" stroke="#111" stroke-width="0.7" />
<text transform="translate(172.10,252.65)" font-size="4.9" text-anchor="end" font-weight="normal" fill="#111" stroke="#111" stroke-width="0.12">200</text>
<line x1="172.90" y1="234.35" x2="175.10" y2="234.35" stroke="#111" stroke-width="0.7" />
<text transform="translate(172.10,236.00)" font-size="4.9" text-anchor="end" font-weight="normal" fill="#111" stroke="#111" stroke-width="0.12">300</text>
<line x1="172.90" y1="217.70" x2="175.10" y2="217.70" stroke="#111" stroke-width="0.7" />
<text transform="translate(172.10,219.35)" font-size="4.9" text-anchor="end" font-weight="normal" fill="#111" stroke="#111" stroke-width="0.12">400</text>
<line x1="173.90" y1="300.95" x2="175.10" y2="300.95" stroke="#111" stroke-width="0.6" />
<line x1="173.90" y1="292.62" x2="175.10" y2="292.62" stroke="#111" stroke-width="0.6" />
<line x1="173.90" y1="275.98" x2="175.10" y2="275.98" stroke="#111" stroke-width="0.6" />
<line x1="173.90" y1="259.32" x2="175.10" y2="259.32" stroke="#111" stroke-width="0.6" />
<line x1="173.90" y1="242.68" x2="175.10" y2="242.68" stroke="#111" stroke-width="0.6" />
<line x1="173.90" y1="226.03" x2="175.10" y2="226.03" stroke="#111" stroke-width="0.6" />
<line x1="187.00" y1="301.90" x2="187.00" y2="304.10" stroke="#111" stroke-width="0.7" />
<text transform="translate(187.00,308.40)" font-size="4.9" text-anchor="middle" font-weight="normal" fill="#111" stroke="#111" stroke-width="0.12">0</text>
<line x1="210.10" y1="301.90" x2="210.10" y2="304.10" stroke="#111" stroke-width="0.7" />
<text transform="translate(210.10,308.40)" font-size="4.9" text-anchor="middle" font-weight="normal" fill="#111" stroke="#111" stroke-width="0.12">20</text>
<line x1="233.20" y1="301.90" x2="233.20" y2="304.10" stroke="#111" stroke-width="0.7" />
<text transform="translate(233.20,308.40)" font-size="4.9" text-anchor="middle" font-weight="normal" fill="#111" stroke="#111" stroke-width="0.12">40</text>
<line x1="256.30" y1="301.90" x2="256.30" y2="304.10" stroke="#111" stroke-width="0.7" />
<text transform="translate(256.30,308.40)" font-size="4.9" text-anchor="middle" font-weight="normal" fill="#111" stroke="#111" stroke-width="0.12">60</text>
<line x1="198.55" y1="301.90" x2="198.55" y2="303.10" stroke="#111" stroke-width="0.6" />
<line x1="221.65" y1="301.90" x2="221.65" y2="303.10" stroke="#111" stroke-width="0.6" />
<line x1="244.75" y1="301.90" x2="244.75" y2="303.10" stroke="#111" stroke-width="0.6" />
<line x1="267.85" y1="301.90" x2="267.85" y2="303.10" stroke="#111" stroke-width="0.6" />
<text transform="translate(227.00,317.80)" font-size="5.95" text-anchor="middle" font-weight="normal" fill="#111" stroke="#111" stroke-width="0.16">time (s)</text>
<text transform="translate(161.00,264.00) rotate(-90) scale(1.042,1.0)" font-size="6.0" text-anchor="middle" font-weight="normal" fill="#111" stroke="#111" stroke-width="0.16">total intensity (a.u.)</text>
<text transform="translate(201.80,239.90)" font-size="5.95" text-anchor="start" font-weight="normal" fill="#111" stroke="#111" stroke-width="0.16">exponential decay event</text>
<path d="M188.16,229.36 L189.31,226.03 L190.47,234.35 L191.62,224.36 L192.78,237.68 L193.93,237.68 L195.09,254.33 L196.24,256.00 L197.40,251.00 L198.55,251.00 L199.71,251.00 L200.86,257.66 L202.01,259.32 L203.17,247.67 L204.32,256.00 L205.48,262.66 L206.63,264.32 L207.79,259.32 L208.94,262.66 L210.10,267.65 L211.25,274.31 L212.41,277.64 L213.56,274.31 L214.72,272.64 L215.88,274.31 L217.03,280.97 L218.19,282.63 L219.34,270.98 L220.50,287.63 L221.65,292.62 L222.81,270.98 L223.96,275.98 L225.12,275.98 L226.27,279.31 L227.43,282.63 L228.58,284.30 L229.74,287.63 L230.89,298.45 L232.05,282.63 L233.20,272.64 L234.36,282.63 L235.51,275.98 L236.66,280.97 L237.82,287.63 L238.97,284.30 L240.13,280.97 L241.28,289.30 L242.44,285.97 L243.59,272.64 L244.75,285.97 L245.91,287.63 L247.06,287.63 L248.22,287.63 L249.37,287.63 L250.53,285.97 L251.68,280.97 L252.84,290.96 L253.99,284.30 L255.14,284.30 L256.30,275.98" fill="none" stroke="#3a3a3a" stroke-width="0.42" stroke-linejoin="round"/>
<path d="M187.23,228.43h1.85v1.85h-1.85zM188.38,225.10h1.85v1.85h-1.85zM189.54,233.43h1.85v1.85h-1.85zM190.69,223.44h1.85v1.85h-1.85zM191.85,236.75h1.85v1.85h-1.85zM193.00,236.75h1.85v1.85h-1.85zM194.16,253.41h1.85v1.85h-1.85zM195.31,255.07h1.85v1.85h-1.85zM196.47,250.07h1.85v1.85h-1.85zM197.62,250.07h1.85v1.85h-1.85zM198.78,250.07h1.85v1.85h-1.85zM199.94,256.74h1.85v1.85h-1.85zM201.09,258.40h1.85v1.85h-1.85zM202.25,246.75h1.85v1.85h-1.85zM203.40,255.07h1.85v1.85h-1.85zM204.55,261.73h1.85v1.85h-1.85zM205.71,263.39h1.85v1.85h-1.85zM206.86,258.40h1.85v1.85h-1.85zM208.02,261.73h1.85v1.85h-1.85zM209.17,266.73h1.85v1.85h-1.85zM210.33,273.38h1.85v1.85h-1.85zM211.48,276.71h1.85v1.85h-1.85zM212.64,273.38h1.85v1.85h-1.85zM213.79,271.72h1.85v1.85h-1.85zM214.95,273.38h1.85v1.85h-1.85zM216.10,280.05h1.85v1.85h-1.85zM217.26,281.71h1.85v1.85h-1.85zM218.41,270.06h1.85v1.85h-1.85zM219.57,286.70h1.85v1.85h-1.85zM220.72,291.70h1.85v1.85h-1.85zM221.88,270.06h1.85v1.85h-1.85zM223.03,275.05h1.85v1.85h-1.85zM224.19,275.05h1.85v1.85h-1.85zM225.34,278.38h1.85v1.85h-1.85zM226.50,281.71h1.85v1.85h-1.85zM227.65,283.38h1.85v1.85h-1.85zM228.81,286.70h1.85v1.85h-1.85zM229.96,297.53h1.85v1.85h-1.85zM231.12,281.71h1.85v1.85h-1.85zM232.27,271.72h1.85v1.85h-1.85zM233.43,281.71h1.85v1.85h-1.85zM234.58,275.05h1.85v1.85h-1.85zM235.74,280.05h1.85v1.85h-1.85zM236.89,286.70h1.85v1.85h-1.85zM238.05,283.38h1.85v1.85h-1.85zM239.20,280.05h1.85v1.85h-1.85zM240.36,288.37h1.85v1.85h-1.85zM241.51,285.04h1.85v1.85h-1.85zM242.67,271.72h1.85v1.85h-1.85zM243.82,285.04h1.85v1.85h-1.85zM244.98,286.70h1.85v1.85h-1.85zM246.13,286.70h1.85v1.85h-1.85zM247.29,286.70h1.85v1.85h-1.85zM248.44,286.70h1.85v1.85h-1.85zM249.60,285.04h1.85v1.85h-1.85zM250.75,280.05h1.85v1.85h-1.85zM251.91,290.04h1.85v1.85h-1.85zM253.06,283.38h1.85v1.85h-1.85zM254.22,283.38h1.85v1.85h-1.85zM255.38,275.05h1.85v1.85h-1.85z" fill="#000"/>
<text transform="translate(307.10,12.30)" font-size="13.8" text-anchor="start" font-weight="bold" fill="#000">G</text>
<line x1="333.60" y1="10.60" x2="333.60" y2="125.95" stroke="#111" stroke-width="1.05" />
<line x1="333.10" y1="125.45" x2="516.80" y2="125.45" stroke="#111" stroke-width="1.05" />
<line x1="331.40" y1="125.45" x2="333.60" y2="125.45" stroke="#111" stroke-width="0.7" />
<text transform="translate(329.40,127.05)" font-size="4.5" text-anchor="end" font-weight="normal" letter-spacing="0.45" fill="#222" stroke="#222" stroke-width="0.04">0</text>
<line x1="331.40" y1="111.96" x2="333.60" y2="111.96" stroke="#111" stroke-width="0.7" />
<text transform="translate(329.40,113.56)" font-size="4.5" text-anchor="end" font-weight="normal" letter-spacing="0.45" fill="#222" stroke="#222" stroke-width="0.04">20</text>
<line x1="331.40" y1="98.47" x2="333.60" y2="98.47" stroke="#111" stroke-width="0.7" />
<text transform="translate(329.40,100.07)" font-size="4.5" text-anchor="end" font-weight="normal" letter-spacing="0.45" fill="#222" stroke="#222" stroke-width="0.04">40</text>
<line x1="331.40" y1="84.98" x2="333.60" y2="84.98" stroke="#111" stroke-width="0.7" />
<text transform="translate(329.40,86.58)" font-size="4.5" text-anchor="end" font-weight="normal" letter-spacing="0.45" fill="#222" stroke="#222" stroke-width="0.04">60</text>
<line x1="331.40" y1="71.49" x2="333.60" y2="71.49" stroke="#111" stroke-width="0.7" />
<text transform="translate(329.40,73.09)" font-size="4.5" text-anchor="end" font-weight="normal" letter-spacing="0.45" fill="#222" stroke="#222" stroke-width="0.04">80</text>
<line x1="331.40" y1="58.00" x2="333.60" y2="58.00" stroke="#111" stroke-width="0.7" />
<text transform="translate(329.40,59.60)" font-size="4.5" text-anchor="end" font-weight="normal" letter-spacing="0.45" fill="#222" stroke="#222" stroke-width="0.04">100</text>
<line x1="331.40" y1="44.51" x2="333.60" y2="44.51" stroke="#111" stroke-width="0.7" />
<text transform="translate(329.40,46.11)" font-size="4.5" text-anchor="end" font-weight="normal" letter-spacing="0.45" fill="#222" stroke="#222" stroke-width="0.04">120</text>
<line x1="331.40" y1="31.02" x2="333.60" y2="31.02" stroke="#111" stroke-width="0.7" />
<text transform="translate(329.40,32.62)" font-size="4.5" text-anchor="end" font-weight="normal" letter-spacing="0.45" fill="#222" stroke="#222" stroke-width="0.04">140</text>
<line x1="331.40" y1="17.53" x2="333.60" y2="17.53" stroke="#111" stroke-width="0.7" />
<text transform="translate(329.40,19.13)" font-size="4.5" text-anchor="end" font-weight="normal" letter-spacing="0.45" fill="#222" stroke="#222" stroke-width="0.04">160</text>
<line x1="332.40" y1="118.70" x2="333.60" y2="118.70" stroke="#111" stroke-width="0.6" />
<line x1="332.40" y1="105.22" x2="333.60" y2="105.22" stroke="#111" stroke-width="0.6" />
<line x1="332.40" y1="91.72" x2="333.60" y2="91.72" stroke="#111" stroke-width="0.6" />
<line x1="332.40" y1="78.24" x2="333.60" y2="78.24" stroke="#111" stroke-width="0.6" />
<line x1="332.40" y1="64.75" x2="333.60" y2="64.75" stroke="#111" stroke-width="0.6" />
<line x1="332.40" y1="51.26" x2="333.60" y2="51.26" stroke="#111" stroke-width="0.6" />
<line x1="332.40" y1="37.77" x2="333.60" y2="37.77" stroke="#111" stroke-width="0.6" />
<line x1="332.40" y1="24.28" x2="333.60" y2="24.28" stroke="#111" stroke-width="0.6" />
<line x1="332.40" y1="10.79" x2="333.60" y2="10.79" stroke="#111" stroke-width="0.6" />
<rect x="345.15" y="59.02" width="9.20" height="66.43" fill="#6f6f6f" stroke="#2a2a2a" stroke-width="0.7"/>
<line x1="349.75" y1="58.67" x2="349.75" y2="26.30" stroke="#8a8a8a" stroke-width="0.5" />
<line x1="348.25" y1="26.30" x2="351.25" y2="26.30" stroke="#8a8a8a" stroke-width="0.5" />
<rect x="378.35" y="56.33" width="8.80" height="69.12" fill="#6f6f6f" stroke="#2a2a2a" stroke-width="0.7"/>
<line x1="382.75" y1="55.98" x2="382.75" y2="18.20" stroke="#8a8a8a" stroke-width="0.5" />
<line x1="381.25" y1="18.20" x2="384.25" y2="18.20" stroke="#8a8a8a" stroke-width="0.5" />
<rect x="389.15" y="66.44" width="8.60" height="59.01" fill="#6f6f6f" stroke="#2a2a2a" stroke-width="0.7"/>
<line x1="393.45" y1="66.09" x2="393.45" y2="43.16" stroke="#8a8a8a" stroke-width="0.5" />
<line x1="391.95" y1="43.16" x2="394.95" y2="43.16" stroke="#8a8a8a" stroke-width="0.5" />
<rect x="421.55" y="58.35" width="8.10" height="67.10" fill="#6f6f6f" stroke="#2a2a2a" stroke-width="0.7"/>
<line x1="425.60" y1="58.00" x2="425.60" y2="56.99" stroke="#8a8a8a" stroke-width="0.5" />
<line x1="424.10" y1="56.99" x2="427.10" y2="56.99" stroke="#8a8a8a" stroke-width="0.5" />
<rect x="432.35" y="58.35" width="8.30" height="67.10" fill="#6f6f6f" stroke="#2a2a2a" stroke-width="0.7"/>
<line x1="436.50" y1="58.00" x2="436.50" y2="52.94" stroke="#8a8a8a" stroke-width="0.5" />
<line x1="435.00" y1="52.94" x2="438.00" y2="52.94" stroke="#8a8a8a" stroke-width="0.5" />
<rect x="443.35" y="67.12" width="8.20" height="58.33" fill="#6f6f6f" stroke="#2a2a2a" stroke-width="0.7"/>
<line x1="447.45" y1="66.77" x2="447.45" y2="55.30" stroke="#8a8a8a" stroke-width="0.5" />
<line x1="445.95" y1="55.30" x2="448.95" y2="55.30" stroke="#8a8a8a" stroke-width="0.5" />
<rect x="464.65" y="56.33" width="8.60" height="69.12" fill="#6f6f6f" stroke="#2a2a2a" stroke-width="0.7"/>
<line x1="468.95" y1="55.98" x2="468.95" y2="45.86" stroke="#8a8a8a" stroke-width="0.5" />
<line x1="467.45" y1="45.86" x2="470.45" y2="45.86" stroke="#8a8a8a" stroke-width="0.5" />
<rect x="475.75" y="53.63" width="8.50" height="71.82" fill="#6f6f6f" stroke="#2a2a2a" stroke-width="0.7"/>
<line x1="480.00" y1="53.28" x2="480.00" y2="45.86" stroke="#8a8a8a" stroke-width="0.5" />
<line x1="478.50" y1="45.86" x2="481.50" y2="45.86" stroke="#8a8a8a" stroke-width="0.5" />
<rect x="486.55" y="58.35" width="8.40" height="67.10" fill="#6f6f6f" stroke="#2a2a2a" stroke-width="0.7"/>
<line x1="490.75" y1="58.00" x2="490.75" y2="44.51" stroke="#8a8a8a" stroke-width="0.5" />
<line x1="489.25" y1="44.51" x2="492.25" y2="44.51" stroke="#8a8a8a" stroke-width="0.5" />
<rect x="497.65" y="60.37" width="8.30" height="65.08" fill="#6f6f6f" stroke="#2a2a2a" stroke-width="0.7"/>
<line x1="501.80" y1="60.02" x2="501.80" y2="49.91" stroke="#8a8a8a" stroke-width="0.5" />
<line x1="500.30" y1="49.91" x2="503.30" y2="49.91" stroke="#8a8a8a" stroke-width="0.5" />
<text transform="translate(349.90,131.20)" font-size="5.1" text-anchor="middle" font-weight="bold" letter-spacing="0.3" fill="#111" stroke="#111" stroke-width="0.08">1 step</text>
<text transform="translate(387.90,131.20)" font-size="5.1" text-anchor="middle" font-weight="bold" letter-spacing="0.3" fill="#111" stroke="#111" stroke-width="0.08">2 steps</text>
<text transform="translate(436.60,131.20)" font-size="5.1" text-anchor="middle" font-weight="bold" letter-spacing="0.3" fill="#111" stroke="#111" stroke-width="0.08">3 steps</text>
<text transform="translate(486.20,131.20)" font-size="5.1" text-anchor="middle" font-weight="bold" letter-spacing="0.3" fill="#111" stroke="#111" stroke-width="0.08">4 steps</text>
<text transform="translate(457.00,24.50)" font-size="5.6" text-anchor="middle" font-weight="normal" letter-spacing="1.1" fill="#222" stroke="#222" stroke-width="0.05">intensity of bleaching steps</text>
<text transform="translate(314.90,70.50) rotate(-90)" font-size="5.6" text-anchor="middle" font-weight="normal" fill="#111" stroke="#111" stroke-width="0.08">total intensity (a.u.)</text>
<text transform="translate(307.00,159.70)" font-size="13.8" text-anchor="start" font-weight="bold" fill="#000">H</text>
<line x1="377.00" y1="154.60" x2="377.00" y2="297.40" stroke="#222" stroke-width="0.7" stroke-dasharray="0.9 0.9"/>
<line x1="424.40" y1="155.20" x2="424.40" y2="297.40" stroke="#222" stroke-width="0.7" stroke-dasharray="0.9 0.9"/>
<line x1="470.50" y1="197.30" x2="470.50" y2="297.40" stroke="#222" stroke-width="0.7" stroke-dasharray="0.9 0.9"/>
<line x1="330.80" y1="154.20" x2="330.80" y2="297.90" stroke="#111" stroke-width="1.1" />
<line x1="330.30" y1="297.40" x2="517.70" y2="297.40" stroke="#111" stroke-width="1.1" />
<line x1="327.60" y1="297.40" x2="330.80" y2="297.40" stroke="#111" stroke-width="0.8" />
<text transform="translate(325.90,299.35)" font-size="4.9" text-anchor="end" font-weight="normal" fill="#111" stroke="#111" stroke-width="0.12">0</text>
<line x1="327.60" y1="265.84" x2="330.80" y2="265.84" stroke="#111" stroke-width="0.8" />
<text transform="translate(325.90,267.79)" font-size="4.9" text-anchor="end" font-weight="normal" fill="#111" stroke="#111" stroke-width="0.12">20</text>
<line x1="327.60" y1="234.28" x2="330.80" y2="234.28" stroke="#111" stroke-width="0.8" />
<text transform="translate(325.90,236.23)" font-size="4.9" text-anchor="end" font-weight="normal" fill="#111" stroke="#111" stroke-width="0.12">40</text>
<line x1="327.60" y1="202.72" x2="330.80" y2="202.72" stroke="#111" stroke-width="0.8" />
<text transform="translate(325.90,204.67)" font-size="4.9" text-anchor="end" font-weight="normal" fill="#111" stroke="#111" stroke-width="0.12">60</text>
<line x1="327.60" y1="171.16" x2="330.80" y2="171.16" stroke="#111" stroke-width="0.8" />
<text transform="translate(325.90,173.11)" font-size="4.9" text-anchor="end" font-weight="normal" fill="#111" stroke="#111" stroke-width="0.12">80</text>
<line x1="329.50" y1="281.62" x2="330.80" y2="281.62" stroke="#111" stroke-width="0.6" />
<line x1="329.50" y1="250.06" x2="330.80" y2="250.06" stroke="#111" stroke-width="0.6" />
<line x1="329.50" y1="218.50" x2="330.80" y2="218.50" stroke="#111" stroke-width="0.6" />
<line x1="329.50" y1="186.94" x2="330.80" y2="186.94" stroke="#111" stroke-width="0.6" />
<line x1="329.50" y1="155.38" x2="330.80" y2="155.38" stroke="#111" stroke-width="0.6" />
<rect x="365.85" y="285.60" width="6.80" height="11.80" fill="#fff" stroke="#1c1c1c" stroke-width="0.7"/>
<rect x="412.75" y="280.87" width="6.80" height="16.53" fill="#fff" stroke="#1c1c1c" stroke-width="0.7"/>
<rect x="459.15" y="275.82" width="6.80" height="21.58" fill="#fff" stroke="#1c1c1c" stroke-width="0.7"/>
<rect x="505.55" y="266.82" width="6.80" height="30.58" fill="#fff" stroke="#1c1c1c" stroke-width="0.7"/>
<line x1="341.30" y1="160.40" x2="514.00" y2="218.00" stroke="#c2c2c2" stroke-width="0.55" />
<line x1="341.10" y1="287.60" x2="508.80" y2="258.90" stroke="#777" stroke-width="0.45" />
<line x1="341.10" y1="287.60" x2="512.70" y2="264.60" stroke="#666" stroke-width="0.45" />
<line x1="419.00" y1="297.40" x2="508.80" y2="291.20" stroke="#555" stroke-width="0.45" />
<line x1="350.00" y1="297.20" x2="508.80" y2="294.20" stroke="#666" stroke-width="0.45" />
<rect x="365.85" y="285.60" width="6.80" height="11.80" fill="none" stroke="#1c1c1c" stroke-width="0.7"/>
<rect x="412.75" y="280.87" width="6.80" height="16.53" fill="none" stroke="#1c1c1c" stroke-width="0.7"/>
<rect x="459.15" y="275.82" width="6.80" height="21.58" fill="none" stroke="#1c1c1c" stroke-width="0.7"/>
<rect x="505.55" y="266.82" width="6.80" height="30.58" fill="none" stroke="#1c1c1c" stroke-width="0.7"/>
<rect x="335.85" y="165.04" width="6.80" height="132.36" fill="#bdbdbd" stroke="#1c1c1c" stroke-width="0.7"/>
<rect x="343.35" y="282.76" width="6.80" height="14.64" fill="#767676" stroke="#1c1c1c" stroke-width="0.7"/>
<rect x="382.75" y="181.14" width="6.80" height="116.26" fill="#bdbdbd" stroke="#1c1c1c" stroke-width="0.7"/>
<rect x="390.25" y="275.66" width="6.80" height="21.74" fill="#767676" stroke="#1c1c1c" stroke-width="0.7"/>
<rect x="397.75" y="297.28" width="6.80" height="0.12" fill="#3a3a3a" stroke="#1c1c1c" stroke-width="0.7"/>
<rect x="429.15" y="199.28" width="6.80" height="98.12" fill="#bdbdbd" stroke="#1c1c1c" stroke-width="0.7"/>
<rect x="436.65" y="274.40" width="6.80" height="23.00" fill="#767676" stroke="#1c1c1c" stroke-width="0.7"/>
<rect x="444.15" y="296.33" width="6.80" height="1.07" fill="#3a3a3a" stroke="#1c1c1c" stroke-width="0.7"/>
<rect x="475.55" y="212.85" width="6.80" height="84.55" fill="#bdbdbd" stroke="#1c1c1c" stroke-width="0.7"/>
<rect x="483.05" y="258.30" width="6.80" height="39.10" fill="#767676" stroke="#1c1c1c" stroke-width="0.7"/>
<rect x="490.55" y="294.91" width="6.80" height="2.49" fill="#3a3a3a" stroke="#1c1c1c" stroke-width="0.7"/>
<rect x="498.05" y="290.02" width="6.80" height="7.38" fill="#000" stroke="#1c1c1c" stroke-width="0.7"/>
<line x1="354.30" y1="297.40" x2="354.30" y2="299.40" stroke="#111" stroke-width="0.7" />
<text transform="translate(348.80,305.80)" font-size="5.6" text-anchor="middle" font-weight="normal" fill="#111" stroke="#111" stroke-width="0.16">ratio 0.64</text>
<line x1="401.10" y1="297.40" x2="401.10" y2="299.40" stroke="#111" stroke-width="0.7" />
<text transform="translate(395.60,305.80)" font-size="5.6" text-anchor="middle" font-weight="normal" fill="#111" stroke="#111" stroke-width="0.16">ratio 1.18</text>
<line x1="447.30" y1="297.40" x2="447.30" y2="299.40" stroke="#111" stroke-width="0.7" />
<text transform="translate(441.80,305.80)" font-size="5.6" text-anchor="middle" font-weight="normal" fill="#111" stroke="#111" stroke-width="0.16">ratio 2.37</text>
<line x1="494.10" y1="297.40" x2="494.10" y2="299.40" stroke="#111" stroke-width="0.7" />
<text transform="translate(488.60,305.80)" font-size="5.6" text-anchor="middle" font-weight="normal" fill="#111" stroke="#111" stroke-width="0.16">ratio 3.93</text>
<text transform="translate(423.30,316.40)" font-size="6.0" text-anchor="middle" font-weight="bold" fill="#111" stroke="#111" stroke-width="0.14">dyes/fibrinogen</text>
<text transform="translate(315.20,230.00) rotate(-90)" font-size="6.4" text-anchor="middle" font-weight="normal" fill="#111" stroke="#111" stroke-width="0.16">frequency (%)</text>
<rect x="433.5" y="141.5" width="86" height="46.5" fill="#fff"/>
<rect x="436.7" y="144.30" width="19.0" height="5.3" fill="#bdbdbd" stroke="#1c1c1c" stroke-width="0.75"/>
<text transform="translate(458.20,149.40)" font-size="7.5" text-anchor="start" font-weight="normal" letter-spacing="0.05" fill="#111" stroke="#111" stroke-width="0.05">1 step bleaching</text>
<rect x="436.7" y="153.30" width="19.0" height="5.3" fill="#767676" stroke="#1c1c1c" stroke-width="0.75"/>
<text transform="translate(458.20,158.40)" font-size="7.5" text-anchor="start" font-weight="normal" letter-spacing="0.05" fill="#111" stroke="#111" stroke-width="0.05">2 steps bleaching</text>
<rect x="436.7" y="162.30" width="19.0" height="5.3" fill="#3a3a3a" stroke="#1c1c1c" stroke-width="0.75"/>
<text transform="translate(458.20,167.40)" font-size="7.5" text-anchor="start" font-weight="normal" letter-spacing="0.05" fill="#111" stroke="#111" stroke-width="0.05">3 steps bleaching</text>
<rect x="436.7" y="171.30" width="19.0" height="5.3" fill="#000" stroke="#1c1c1c" stroke-width="0.75"/>
<text transform="translate(458.20,176.40)" font-size="7.5" text-anchor="start" font-weight="normal" letter-spacing="0.05" fill="#111" stroke="#111" stroke-width="0.05">4 steps bleaching</text>
<rect x="436.7" y="180.30" width="19.0" height="5.3" fill="#fff" stroke="#1c1c1c" stroke-width="0.75"/>
<text transform="translate(458.20,185.40)" font-size="7.5" text-anchor="start" font-weight="normal" letter-spacing="0.05" fill="#111" stroke="#111" stroke-width="0.05">exp. decay</text></g></svg>
</body></html>
